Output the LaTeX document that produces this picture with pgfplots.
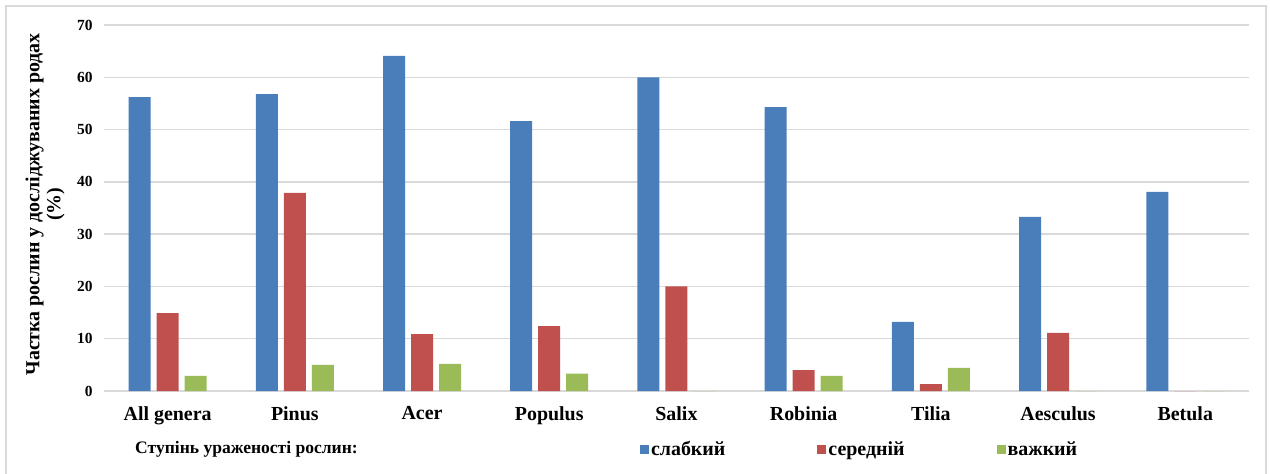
\documentclass[border=0pt]{standalone}
\usepackage{fontspec}
\setmainfont{Liberation Serif}
\usepackage{pgfplots}
\pgfplotsset{compat=1.18}
\usepackage{pgfplotstable}

\definecolor{cblue}{HTML}{4A7EBB}
\definecolor{cred}{HTML}{C0504D}
\definecolor{cgreen}{HTML}{9BBB59}
\definecolor{gridc}{HTML}{D9D9D9}

% 0 All genera, 1 Pinus, 2 Acer, 3 Populus, 4 Salix, 5 Robinia, 6 Tilia, 7 Aesculus, 8 Betula
\pgfplotstableread{
x  slab  ser   vazh
0  56.2  14.9  2.9
1  56.8  37.9  5.0
2  64.1  10.9  5.2
3  51.6  12.4  3.3
4  60.0  20.0  0
5  54.3  4.0   2.9
6  13.2  1.3   4.4
7  33.3  11.1  0
8  38.1  0     0
}\data

\begin{document}
\begin{tikzpicture}[font=\bfseries]
\useasboundingbox (0,0) rectangle (1270bp,474bp);
\draw[gridc, line width=1.2bp] (6bp,-2bp) rectangle (1266bp,468bp);
\begin{axis}[
    at={(104bp,83bp)}, anchor=south west,
    scale only axis, clip=false,
    width=1145bp, height=366bp,
    ybar=6bp, bar width=22bp,
    ymin=0, ymax=70, ytick={0,10,...,70},
    xmin=-0.5, xmax=8.5, enlarge x limits=false,
    xtick=data,
    xticklabels={All genera,Pinus,Acer,Populus,Salix,Robinia,Tilia,Aesculus,Betula},
    axis line style={draw=none},
    tick style={draw=none},
    ymajorgrids,
    major grid style={gridc, line width=1.5bp},
    /pgf/number format/assume math mode=true,
    yticklabel style={font=\bfseries\fontsize{15.5}{16}\selectfont, xshift=-8bp},
    xticklabel style={font=\bfseries\fontsize{20}{20}\selectfont, yshift=-8bp},
    ylabel={Частка рослин у досліджуваних родах\\(\%)},
    ylabel style={font=\bfseries\fontsize{20}{21}\selectfont, align=center,
        at={(axis description cs:0,0.51)}, yshift=59bp, anchor=center},
    legend columns=3,
    legend style={at={(axis description cs:0.66,-0.1585)}, anchor=center,
        draw=none, fill=none, font=\bfseries\fontsize{20}{20}\selectfont,
        /tikz/every even column/.append style={column sep=90bp},
        nodes={inner sep=2bp}},
    legend image code/.code={\draw[#1, draw=none] (0bp,-4.5bp) rectangle (9bp,4.5bp);},
]
\addplot[fill=cblue, draw=none] table[x=x, y=slab] {\data};
\addplot[fill=cred, draw=none] table[x=x, y=ser] {\data};
\addplot[fill=cgreen, draw=none] table[x=x, y=vazh] {\data};
\legend{слабкий, середній, важкий}
\node[anchor=west, inner sep=0pt, font=\bfseries\fontsize{17.6}{18}\selectfont]
    at (axis description cs:0.0271,-0.1585) {Ступінь ураженості рослин:};
\end{axis}
\end{tikzpicture}
\end{document}
